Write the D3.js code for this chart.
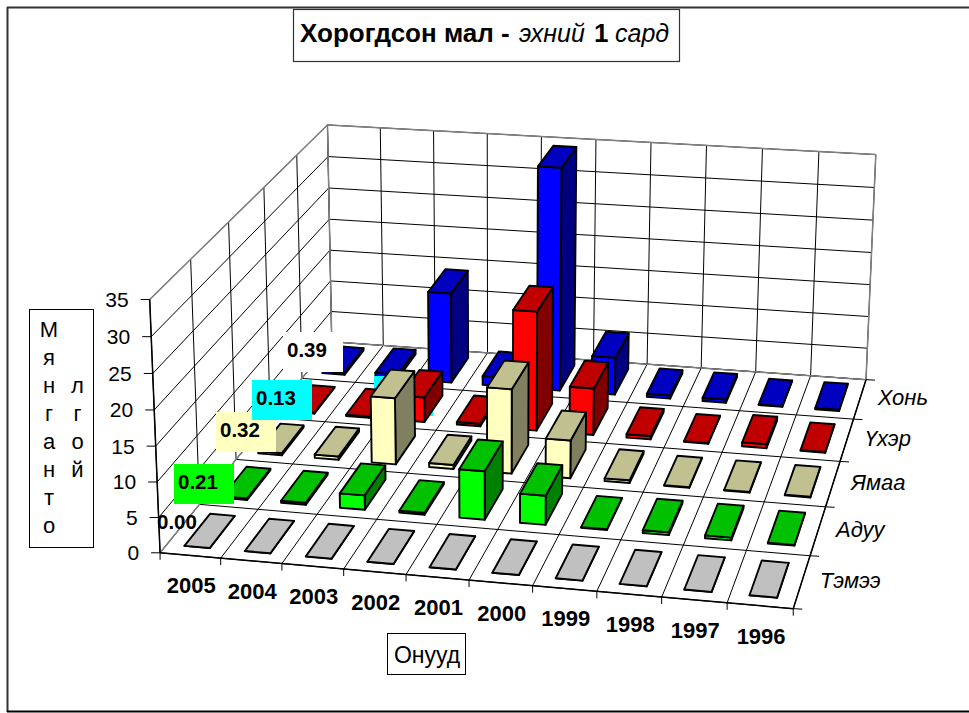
<!DOCTYPE html>
<html>
<head>
<meta charset="utf-8">
<script src="https://d3js.org/d3.v7.min.js"></script>
<style>
  html, body { margin: 0; padding: 0; background: #fff; }
  svg { display: block; }
  text { font-family: "Liberation Sans", Arial, sans-serif; fill: #000; }
</style>
</head>
<body>
<svg id="chart"></svg>
<script>
// data (thousand head)
const years = ['2005', '2004', '2003', '2002', '2001', '2000', '1999', '1998', '1997', '1996'];
const animals = ['Тэмээ', 'Адуу', 'Ямаа', 'Үхэр', 'Хонь'];
const temee = [0.00, 0.01, 0.01, 0.01, 0.01, 0.01, 0.01, 0.01, 0.01, 0.01];
const aduu = [0.21, 0.30, 2.1, 0.30, 7.0, 4.2, 0.10, 0.40, 0.40, 0.10];
const yamaa = [0.32, 0.50, 9.9, 0.60, 12.5, 5.6, 0.40, 0.10, 0.10, 0.10];
const ukher = [0.13, 0.20, 3.8, 0.40, 18.1, 7.1, 0.50, 0.10, 0.60, 0.10];
const khoni = [0.39, 0.70, 14.1, 1.40, 34.5, 5.8, 0.50, 0.50, 0.10, 0.20];
const yTicks = [0, 5, 10, 15, 20, 25, 30, 35];

const seriesValues = [temee, aduu, yamaa, ukher, khoni];
const front = ['#c0c0c0', '#00ff00', '#ffffc0', '#ff0000', '#0000ff'];
const top_ = ['#c0c0c0', '#00c000', '#c0c090', '#c00000', '#0000c0'];
const side = ['#808080', '#008000', '#808060', '#800000', '#000080'];

const width = 969, height = 713;
const svg = d3.select('#chart').attr('width', width).attr('height', height);

// scales work in "box" units, the camera below turns them into screen points
const xScale = d3.scaleBand().domain(years).range([0, 10]).paddingInner(0.58).paddingOuter(0.29);
const zScale = d3.scaleBand().domain(animals).range([0, 5]).paddingInner(0.34).paddingOuter(0.17);
const yScale = d3.scaleLinear().domain([0, 35]).range([0, 35]);

// box corners as seen on the page, used to fit the camera
const calib = [
  [0, 0, 0, 160, 553], [10, 0, 0, 793, 609], [10, 5, 0, 866, 379], [0, 5, 0, 332, 342],
  [0, 5, 35, 327, 125], [10, 5, 35, 876, 155], [0, 0, 35, 150, 299]
];

function fitCamera(pts) {
  // least squares for the 11 terms of a projective camera
  let rows = [], rhs = [];
  pts.forEach(([u, v, w, sx, sy]) => {
    rows.push([u, v, w, 1, 0, 0, 0, 0, -sx * u, -sx * v, -sx * w]); rhs.push(sx);
    rows.push([0, 0, 0, 0, u, v, w, 1, -sy * u, -sy * v, -sy * w]); rhs.push(sy);
  });
  const n = 11;
  let m = d3.range(n).map(i => d3.range(n + 1).map(j =>
    d3.sum(rows, (r, k) => r[i] * (j < n ? r[j] : rhs[k]))));
  for (let i = 0; i < n; i++) {
    let p = i;
    for (let r = i + 1; r < n; r++) if (Math.abs(m[r][i]) > Math.abs(m[p][i])) p = r;
    [m[i], m[p]] = [m[p], m[i]];
    for (let r = 0; r < n; r++) {
      if (r === i) continue;
      const f = m[r][i] / m[i][i];
      for (let c = i; c <= n; c++) m[r][c] -= f * m[i][c];
    }
  }
  return m.map((r, i) => r[n] / r[i]);
}
const cam = fitCamera(calib);
function project(u, v, w) {
  const d = cam[8] * u + cam[9] * v + cam[10] * w + 1;
  return [(cam[0] * u + cam[1] * v + cam[2] * w + cam[3]) / d,
          (cam[4] * u + cam[5] * v + cam[6] * w + cam[7]) / d];
}
const segment = (g, a, b, color, sw) => g.append('line')
  .attr('x1', project(...a)[0]).attr('y1', project(...a)[1])
  .attr('x2', project(...b)[0]).attr('y2', project(...b)[1])
  .attr('stroke', color).attr('stroke-width', sw || 1);
const poly = (g, pts, fill, sw) => g.append('polygon')
  .attr('points', pts.map(p => project(...p).join(',')).join(' '))
  .attr('fill', fill).attr('stroke', '#000').attr('stroke-width', sw || 1.9)
  .attr('stroke-linejoin', 'round');

// outer frame, it has no right side in the picture
svg.append('line').attr('x1', 7).attr('y1', 7.5).attr('x2', width).attr('y2', 7.5)
  .attr('stroke', '#333').attr('stroke-width', 2);
svg.append('line').attr('x1', 7.5).attr('y1', 7).attr('x2', 7.5).attr('y2', 712)
  .attr('stroke', '#333').attr('stroke-width', 2);
svg.append('line').attr('x1', 7).attr('y1', 711.5).attr('x2', width).attr('y2', 711.5)
  .attr('stroke', '#000').attr('stroke-width', 2);

// walls and grid
const grid = svg.append('g');
yTicks.forEach(t => {
  segment(grid, [0, 0, yScale(t)], [0, 5, yScale(t)], '#000');
  segment(grid, [0, 5, yScale(t)], [10, 5, yScale(t)], '#000');
});
d3.range(0, 11).forEach(i => {
  segment(grid, [i, 5, 0], [i, 5, 35], '#000');
  segment(grid, [i, 0, 0], [i, 5, 0], '#000');
});
d3.range(0, 6).forEach(j => {
  segment(grid, [0, j, 0], [0, j, 35], '#000');
  segment(grid, [0, j, 0], [10, j, 0], '#000');
});
// grey box edges
segment(grid, [0, 0, 35], [0, 5, 35], '#808080', 1.5);
segment(grid, [0, 5, 35], [10, 5, 35], '#808080', 1.5);
segment(grid, [10, 5, 35], [10, 5, 0], '#808080', 1.5);
segment(grid, [0, 5, 35], [0, 5, 0], '#808080', 1.5);
segment(grid, [0, 5, 0], [10, 5, 0], '#808080', 1.5);
segment(grid, [0, 0, 0], [0, 5, 0], '#808080', 1.5);
// axes
segment(grid, [0, 0, 0], [0, 0, 35], '#000', 1.5);
segment(grid, [0, 0, 0], [10, 0, 0], '#000', 1.5);
segment(grid, [10, 0, 0], [10, 5, 0], '#000', 1.5);

// value axis ticks and labels
yTicks.forEach(t => {
  const p = project(0, 0, yScale(t));
  grid.append('line').attr('x1', p[0] - 9).attr('y1', p[1]).attr('x2', p[0]).attr('y2', p[1])
    .attr('stroke', '#000');
  svg.append('text').attr('x', p[0] - 21).attr('y', p[1] + 7.5).attr('text-anchor', 'end')
    .attr('font-size', 21).text(t);
});
// year ticks and labels
d3.range(0, 11).forEach(i => {
  const p = project(i, 0, 0);
  grid.append('line').attr('x1', p[0]).attr('y1', p[1]).attr('x2', p[0]).attr('y2', p[1] + 7)
    .attr('stroke', '#000');
});
years.forEach(y => {
  const p = project(xScale(y) + xScale.bandwidth() / 2, 0, 0);
  svg.append('text').attr('x', p[0] + 1).attr('y', p[1] + 38).attr('text-anchor', 'middle')
    .attr('font-size', 22).attr('font-weight', 'bold').text(y);
});
// series ticks and labels
d3.range(0, 6).forEach(j => {
  const p = project(10, j, 0);
  grid.append('line').attr('x1', p[0]).attr('y1', p[1]).attr('x2', p[0] + 9).attr('y2', p[1] + 0.5)
    .attr('stroke', '#000');
});
animals.forEach(a => {
  const p = project(10, zScale(a) + zScale.bandwidth() / 2, 0);
  svg.append('text').attr('x', p[0] + 18).attr('y', p[1] + 6)
    .attr('font-size', 22).attr('font-style', 'italic').text(a);
});

// bars, far row first and right to left inside a row
const bars = svg.append('g');
function drawBar(i, j) {
  const x0 = xScale(years[i]), x1 = x0 + xScale.bandwidth();
  const z0 = zScale(animals[j]), z1 = z0 + zScale.bandwidth();
  const h = yScale(seriesValues[j][i]);
  poly(bars, [[x1, z0, 0], [x1, z1, 0], [x1, z1, h], [x1, z0, h]], side[j]);
  poly(bars, [[x0, z0, 0], [x1, z0, 0], [x1, z0, h], [x0, z0, h]], front[j]);
  poly(bars, [[x0, z0, h], [x1, z0, h], [x1, z1, h], [x0, z1, h]], top_[j]);
}
d3.range(animals.length - 1, -1, -1).forEach(j => {
  // second cyan label sits behind the 2003 bars
  if (j === 3) bars.append('rect').attr('x', 374).attr('y', 376).attr('width', 59).attr('height', 40).attr('fill', '#00ffff');
  d3.range(years.length - 1, -1, -1).forEach(i => drawBar(i, j));
});

// data labels of the 2005 column
const labelVals = [temee[0], aduu[0], yamaa[0], ukher[0], khoni[0]];
const labelBox = [
  { x: 153, y: 504, fill: 'none' },
  { x: 174, y: 464, fill: '#00ff00' },
  { x: 216, y: 412, fill: '#ffffc0' },
  { x: 252, y: 380, fill: '#00ffff' },
  { x: 283, y: 332, fill: '#ffffff' }
];
labelVals.forEach((v, j) => {
  const b = labelBox[j];
  if (b.fill !== 'none') svg.append('rect').attr('x', b.x).attr('y', b.y).attr('width', 60).attr('height', 40).attr('fill', b.fill);
  svg.append('text').attr('x', b.x + 4).attr('y', b.y + 25)
    .attr('font-size', 20.5).attr('font-weight', 'bold').text(v.toFixed(2));
});

// title
svg.append('rect').attr('x', 293.5).attr('y', 9.5).attr('width', 386).attr('height', 52)
  .attr('fill', '#fff').attr('stroke', '#333').attr('stroke-width', 1.2);
const title = svg.append('text').attr('y', 42);
title.append('tspan').attr('x', 300).attr('font-size', 26).attr('font-weight', 'bold').text('Хорогдсон мал -');
title.append('tspan').attr('x', 519).attr('font-style', 'italic').attr('font-size', 25).text('эхний');
title.append('tspan').attr('x', 594).attr('font-size', 26).attr('font-weight', 'bold').text('1');
title.append('tspan').attr('x', 615).attr('font-style', 'italic').attr('font-size', 25).text('сард');

// axis titles
svg.append('rect').attr('x', 387.5).attr('y', 633.5).attr('width', 78).attr('height', 41)
  .attr('fill', '#fff').attr('stroke', '#000');
svg.append('text').attr('x', 427).attr('y', 663).attr('text-anchor', 'middle').attr('font-size', 23).text('Онууд');

svg.append('rect').attr('x', 29.5).attr('y', 309.5).attr('width', 64).attr('height', 238)
  .attr('fill', '#fff').attr('stroke', '#000');
const col1 = ['М', 'я', 'н', 'г', 'а', 'н', 'т', 'о'];
const col2 = ['л', 'г', 'о', 'й'];
col1.forEach((c, i) => svg.append('text').attr('x', 49).attr('y', 337 + i * 28)
  .attr('text-anchor', 'middle').attr('font-size', 22).text(c));
col2.forEach((c, i) => svg.append('text').attr('x', 77.5).attr('y', 393 + i * 28)
  .attr('text-anchor', 'middle').attr('font-size', 22).text(c));
</script>
</body>
</html>
